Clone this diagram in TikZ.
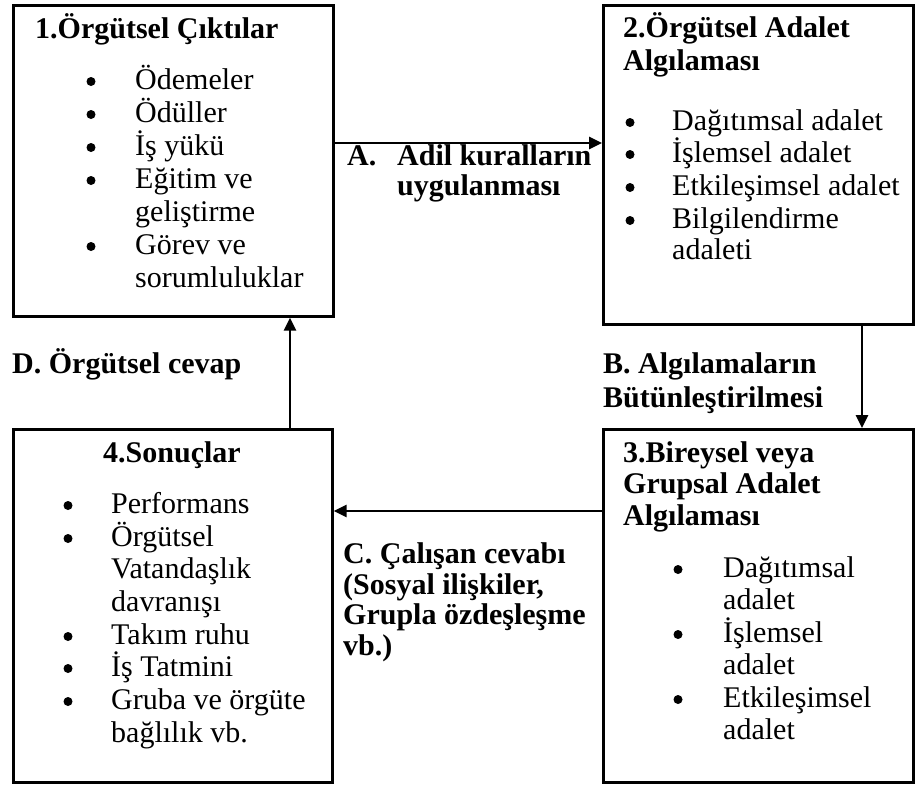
\documentclass[tikz,border=0pt]{standalone}
\usepackage{fontspec}
\setmainfont{Liberation Serif}
\usetikzlibrary{arrows.meta}
\begin{document}
\begin{tikzpicture}[x=1pt,y=-1pt,
  box/.style={draw, line width=2.6pt, inner sep=0pt, anchor=north west},
  txt/.style={anchor=base west, inner sep=0pt, font=\fontsize{30}{33}\selectfont},
  ttl/.style={txt, font=\fontsize{30}{33}\selectfont\bfseries},
  bul/.style={circle, fill, inner sep=0pt, minimum size=9pt},
  arr/.style={line width=2.6pt, -{Triangle[length=13pt,width=12pt]}}]
\useasboundingbox (0,0) rectangle (917,785);

% the four stages
\node[box, minimum width=320pt, minimum height=311pt] (b1) at (12,4) {};
\node[box, minimum width=310pt, minimum height=319pt] (b2) at (602,4) {};
\node[box, minimum width=310pt, minimum height=353pt] (b3) at (602,428) {};
\node[box, minimum width=319pt, minimum height=353pt] (b4) at (12,428) {};

% stage 1 (bullets sit 7.5pt above the baseline of their line)
\node[ttl] (t1) at (35,38) {1.Örgütsel Çıktılar};
\foreach \y [count=\i] in {89,122,155,188,254}
  \node[bul] (p1\i) at (91,\y-7.5) {};
\node[txt] (s1a) at (135,89) {Ödemeler};
\node[txt] (s1b) at (135,122) {Ödüller};
\node[txt] (s1c) at (135,155) {İş yükü};
\node[txt] (s1d) at (135,188) {Eğitim ve};
\node[txt] (s1e) at (135,221) {geliştirme};
\node[txt] (s1f) at (135,254) {Görev ve};
\node[txt] (s1g) at (135,287) {sorumluluklar};

% stage 2
\node[ttl] (t2a) at (623,37) {2.Örgütsel Adalet};
\node[ttl] (t2b) at (623,70) {Algılaması};
\foreach \y [count=\i] in {130,162,195,228}
  \node[bul] (p2\i) at (630,\y-7.5) {};
\node[txt] (s2a) at (672,130) {Dağıtımsal adalet};
\node[txt] (s2b) at (672,162) {İşlemsel adalet};
\node[txt] (s2c) at (672,195) {Etkileşimsel adalet};
\node[txt] (s2d) at (672,228) {Bilgilendirme};
\node[txt] (s2e) at (672,259) {adaleti};

% stage 3
\node[ttl] (t3a) at (623,462) {3.Bireysel veya};
\node[ttl] (t3b) at (623,493) {Grupsal Adalet};
\node[ttl] (t3c) at (623,525) {Algılaması};
\foreach \y [count=\i] in {577,642,707}
  \node[bul] (p3\i) at (678,\y-7.5) {};
\node[txt] (s3a) at (723,577) {Dağıtımsal};
\node[txt] (s3b) at (723,609) {adalet};
\node[txt] (s3c) at (723,642) {İşlemsel};
\node[txt] (s3d) at (723,674) {adalet};
\node[txt] (s3e) at (723,707) {Etkileşimsel};
\node[txt] (s3f) at (723,739) {adalet};

% stage 4
\node[ttl, anchor=base] (t4) at (172,462) {4.Sonuçlar};
\foreach \y [count=\i] in {513,546,644,676,709}
  \node[bul] (p4\i) at (68,\y-7.5) {};
\node[txt] (s4a) at (111,513) {Performans};
\node[txt] (s4b) at (111,546) {Örgütsel};
\node[txt] (s4c) at (111,578) {Vatandaşlık};
\node[txt] (s4d) at (111,611) {davranışı};
\node[txt] (s4e) at (111,644) {Takım ruhu};
\node[txt] (s4f) at (111,676) {İş Tatmini};
\node[txt] (s4g) at (111,709) {Gruba ve örgüte};
\node[txt] (s4h) at (111,742) {bağlılık vb.};

% connectors
\coordinate (ay) at (0,143);
\coordinate (bx) at (862,0);
\coordinate (cy) at (0,511);
\coordinate (dx) at (290,0);
\draw[arr] (b1.east |- ay) -- (b2.west |- ay);
\draw[arr] (b2.south -| bx) -- (b3.north -| bx);
\draw[arr] (b3.west |- cy) -- (b4.east |- cy);
\draw[arr] (b4.north -| dx) -- (b1.south -| dx);

% connector labels
\node[ttl] (la1) at (347,165) {A.};
\node[ttl] (la2) at (397,165) {Adil kuralların};
\node[ttl] (la3) at (397,195) {uygulanması};
\node[ttl] (lb1) at (603,373) {B. Algılamaların};
\node[ttl] (lb2) at (603,407) {Bütünleştirilmesi};
\node[ttl] (lc1) at (343,563) {C. Çalışan cevabı};
\node[ttl] (lc2) at (343,594) {(Sosyal ilişkiler,};
\node[ttl] (lc3) at (343,624) {Grupla özdeşleşme};
\node[ttl] (lc4) at (343,655) {vb.)};
\node[ttl] (ld) at (12,373) {D. Örgütsel cevap};
\end{tikzpicture}
\end{document}
